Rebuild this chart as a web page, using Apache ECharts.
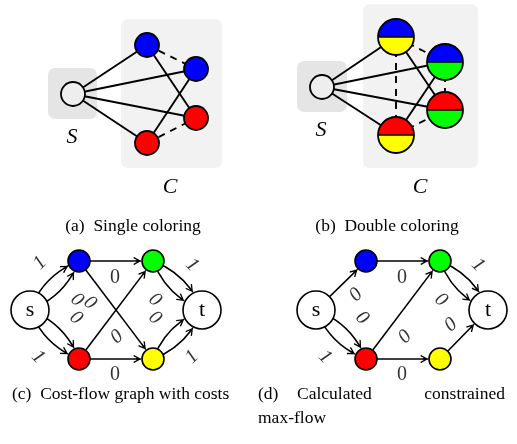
<!DOCTYPE html>
<html>
<head>
<meta charset="utf-8">
<script src="https://cdn.jsdelivr.net/npm/echarts@6/dist/echarts.min.js"></script>
<style>
  html, body { margin: 0; padding: 0; background: #fff; }
  #chart { width: 517px; height: 444px; }
</style>
</head>
<body>
<div id="chart"></div>
<script>
// (a) single coloring: S plus two blue and two red nodes
const aNodeX = [73, 147, 196, 196, 147];
const aNodeY = [94, 45, 69, 118, 143];
const aNodeColor = ["#eeeeee", "#0000ff", "#0000ff", "#ff0000", "#ff0000"];
const aSolidEdges = [[0, 1], [0, 2], [0, 3], [0, 4], [1, 3], [2, 4]];
const aDashedEdges = [[1, 2], [4, 3]];

// (b) double coloring: top / bottom half colours
const bNodeX = [322, 396, 445, 445, 396];
const bNodeY = [87, 37, 62, 110, 135];
const bTopColor = ["", "#0000ff", "#0000ff", "#ff0000", "#ff0000"];
const bBottomColor = ["", "#ffff00", "#00ff00", "#00ff00", "#ffff00"];
const bSolidEdges = [[0, 1], [0, 2], [0, 3], [0, 4], [1, 3], [2, 4]];
const bDashedEdges = [[1, 4], [2, 3], [1, 2], [4, 3]];

// grey boxes around S and C, (a) then (b)
const boxX1 = [48, 121, 297, 363];
const boxY1 = [68, 19, 61, 4];
const boxX2 = [97, 222, 347, 478];
const boxY2 = [119, 168, 112, 168];
const boxFill = ["#e5e5e5", "#f2f2f2", "#e5e5e5", "#f2f2f2"];

// (c) cost-flow graph
const flowNames = ["s", "", "", "", "", "t"];
const flowColor = ["#ffffff", "#0000ff", "#ff0000", "#00ff00", "#ffff00", "#ffffff"];
const cNodeX = [30, 79, 79, 153, 153, 202];
const cNodeY = [310, 261, 359, 261, 359, 310];
const cEdges = [[0, 1], [0, 1], [0, 2], [0, 2], [1, 3], [2, 4], [1, 4], [2, 3], [3, 5], [3, 5], [4, 5], [4, 5]];
const cBend = [0.22, -0.22, 0.22, -0.22, 0, 0, 0, 0, 0.22, -0.22, 0.22, -0.22];
const cLabText = ["1", "1", "0", "0", "0", "0", "0", "0", "0", "0", "1", "1"];
const cLabX = [40, 38, 115, 115, 117, 77, 90, 76, 155, 155, 192, 192];
const cLabY = [263, 357, 278, 375, 337, 300, 303, 318, 300, 318, 265, 357];
const cLabRot = [45, -45, 0, 0, 40, -40, -40, -40, -40, -40, -45, 45];

// (d) calculated constrained max-flow
const dNodeX = [316, 366, 366, 440, 440, 488];
const dNodeY = [310, 261, 359, 261, 359, 310];
const dEdges = [[0, 1], [0, 2], [0, 2], [1, 3], [2, 3], [2, 4], [3, 5], [3, 5], [4, 5]];
const dBend = [0, 0.22, -0.22, 0, 0, 0, 0.22, -0.22, 0];
const dLabText = ["0", "0", "1", "0", "0", "0", "1", "0", "0"];
const dLabX = [356, 362, 325, 402, 405, 402, 478, 441, 451];
const dLabY = [295, 318, 357, 278, 337, 375, 265, 300, 325];
const dLabRot = [45, -45, -45, 0, 45, 0, -45, -40, 40];

const serif = "Liberation Serif";
// open arrow head with a short shaft so the line reaches the tip
const arrowPath = "path://M5,0L10,8.4L8.8,9.6L5,3.2L1.2,9.6L0,8.4Z M4.2,0L5.8,0L5.8,6L4.2,6Z";
const arrowSize = 8;

const chart = echarts.init(document.getElementById("chart"));

function coloringGraph(xs, ys, solid, dashed, visible) {
  const links = solid.map((e) => ({ source: e[0], target: e[1] }));
  dashed.forEach((e) => {
    links.push({ source: e[0], target: e[1], lineStyle: { type: [7, 6] } });
  });
  return {
    type: "graph",
    coordinateSystem: "cartesian2d",
    z: 2,
    silent: true,
    data: xs.map((x, i) => ({
      value: [x, ys[i]],
      symbolSize: 24,
      itemStyle: visible[i]
        ? { color: visible[i], borderColor: "#000", borderWidth: 1.8 }
        : { opacity: 0 },
    })),
    links: links,
    lineStyle: { color: "#000", width: 1.9, opacity: 1 },
    label: { show: false },
  };
}

function flowGraph(xs, ys, edges, bends) {
  return {
    type: "graph",
    coordinateSystem: "cartesian2d",
    z: 2,
    silent: true,
    // invisible nodes, sized so arrow tips stop at the drawn circles
    data: xs.map((x, i) => ({
      value: [x, ys[i]],
      symbolSize: (flowNames[i] ? 19 : 11) * 2 + 1.6 + arrowSize,
      itemStyle: { opacity: 0 },
    })),
    links: edges.map((e, i) => ({
      source: e[0],
      target: e[1],
      lineStyle: { curveness: bends[i] },
    })),
    edgeSymbol: ["none", arrowPath],
    edgeSymbolSize: arrowSize,
    lineStyle: { color: "#000", width: 1.6, opacity: 1 },
    label: { show: false },
  };
}

function flowNodes(xs, ys) {
  return {
    type: "scatter",
    z: 4,
    silent: true,
    data: xs.map((x, i) => ({
      value: [x, ys[i]],
      name: flowNames[i],
      symbolSize: flowNames[i] ? 38 : 22,
      itemStyle: { color: flowColor[i] },
    })),
    itemStyle: { borderColor: "#000", borderWidth: 1.6, opacity: 1 },
    label: {
      show: true,
      position: "inside",
      formatter: "{b}",
      fontFamily: serif,
      fontSize: 22,
      color: "#000",
    },
  };
}

function costLabels(texts, xs, ys, rots) {
  return {
    type: "scatter",
    z: 5,
    silent: true,
    symbolSize: 1,
    itemStyle: { color: "rgba(0,0,0,0)" },
    data: texts.map((t, i) => ({
      value: [xs[i], ys[i]],
      name: t,
      label: { rotate: rots[i], fontStyle: rots[i] ? "italic" : "normal" },
    })),
    label: {
      show: true,
      position: "inside",
      formatter: "{b}",
      fontFamily: serif,
      fontSize: 20,
      color: "#000",
    },
  };
}

function txt(str, x, y, size, italic, align) {
  return {
    type: "text",
    x: x,
    y: y,
    z: 10,
    silent: true,
    style: {
      text: str,
      fill: "#000",
      fontFamily: serif,
      fontSize: size,
      fontStyle: italic ? "italic" : "normal",
      align: align || "center",
      verticalAlign: "middle",
      textAlign: align || "center",
      textVerticalAlign: "middle",
    },
  };
}

const option = {
  animation: false,
  backgroundColor: "#ffffff",
  grid: { left: 0, right: 0, top: 0, bottom: 0 },
  xAxis: { type: "value", min: 0, max: 517, show: false },
  yAxis: { type: "value", min: 0, max: 444, inverse: true, show: false },
  graphic: [
    txt("S", 72, 137, 22, true),
    txt("C", 170, 187, 22, true),
    txt("S", 321, 130, 22, true),
    txt("C", 420, 187, 22, true),
    txt("(a)  Single coloring", 133, 226, 17.5, false),
    txt("(b)  Double coloring", 387, 226, 17.5, false),
    txt("(c)  Cost-flow graph with costs", 12, 394, 17.5, false, "left"),
    txt("(d)", 258, 394, 17.5, false, "left"),
    txt("Calculated", 297, 394, 17.5, false, "left"),
    txt("constrained", 505, 394, 17.5, false, "right"),
    txt("max-flow", 258, 418, 17.5, false, "left"),
  ],
  series: [
    {
      type: "custom",
      z: 1,
      silent: true,
      data: boxX1.map((x, i) => [x, boxY1[i], boxX2[i], boxY2[i]]),
      renderItem: function (params, api) {
        const p1 = api.coord([api.value(0), api.value(1)]);
        const p2 = api.coord([api.value(2), api.value(3)]);
        return {
          type: "rect",
          shape: { x: p1[0], y: p1[1], width: p2[0] - p1[0], height: p2[1] - p1[1], r: 7 },
          style: { fill: boxFill[params.dataIndex] },
        };
      },
    },
    coloringGraph(aNodeX, aNodeY, aSolidEdges, aDashedEdges, aNodeColor),
    coloringGraph(bNodeX, bNodeY, bSolidEdges, bDashedEdges, ["#eeeeee", "", "", "", ""]),
    {
      type: "custom",
      z: 3,
      silent: true,
      data: bNodeX.slice(1).map((x, i) => [x, bNodeY[i + 1]]),
      renderItem: function (params, api) {
        const c = api.coord([api.value(0), api.value(1)]);
        const r = 18;
        const k = params.dataIndex + 1;
        return {
          type: "group",
          children: [
            { type: "sector", shape: { cx: c[0], cy: c[1], r: r, startAngle: Math.PI, endAngle: 2 * Math.PI }, style: { fill: bTopColor[k] } },
            { type: "sector", shape: { cx: c[0], cy: c[1], r: r, startAngle: 0, endAngle: Math.PI }, style: { fill: bBottomColor[k] } },
            { type: "line", shape: { x1: c[0] - r, y1: c[1], x2: c[0] + r, y2: c[1] }, style: { stroke: "#000", lineWidth: 1.6 } },
            { type: "circle", shape: { cx: c[0], cy: c[1], r: r }, style: { fill: null, stroke: "#000", lineWidth: 1.8 } },
          ],
        };
      },
    },
    flowGraph(cNodeX, cNodeY, cEdges, cBend),
    flowNodes(cNodeX, cNodeY),
    costLabels(cLabText, cLabX, cLabY, cLabRot),
    flowGraph(dNodeX, dNodeY, dEdges, dBend),
    flowNodes(dNodeX, dNodeY),
    costLabels(dLabText, dLabX, dLabY, dLabRot),
  ],
};

chart.setOption(option);
</script>
</body>
</html>
